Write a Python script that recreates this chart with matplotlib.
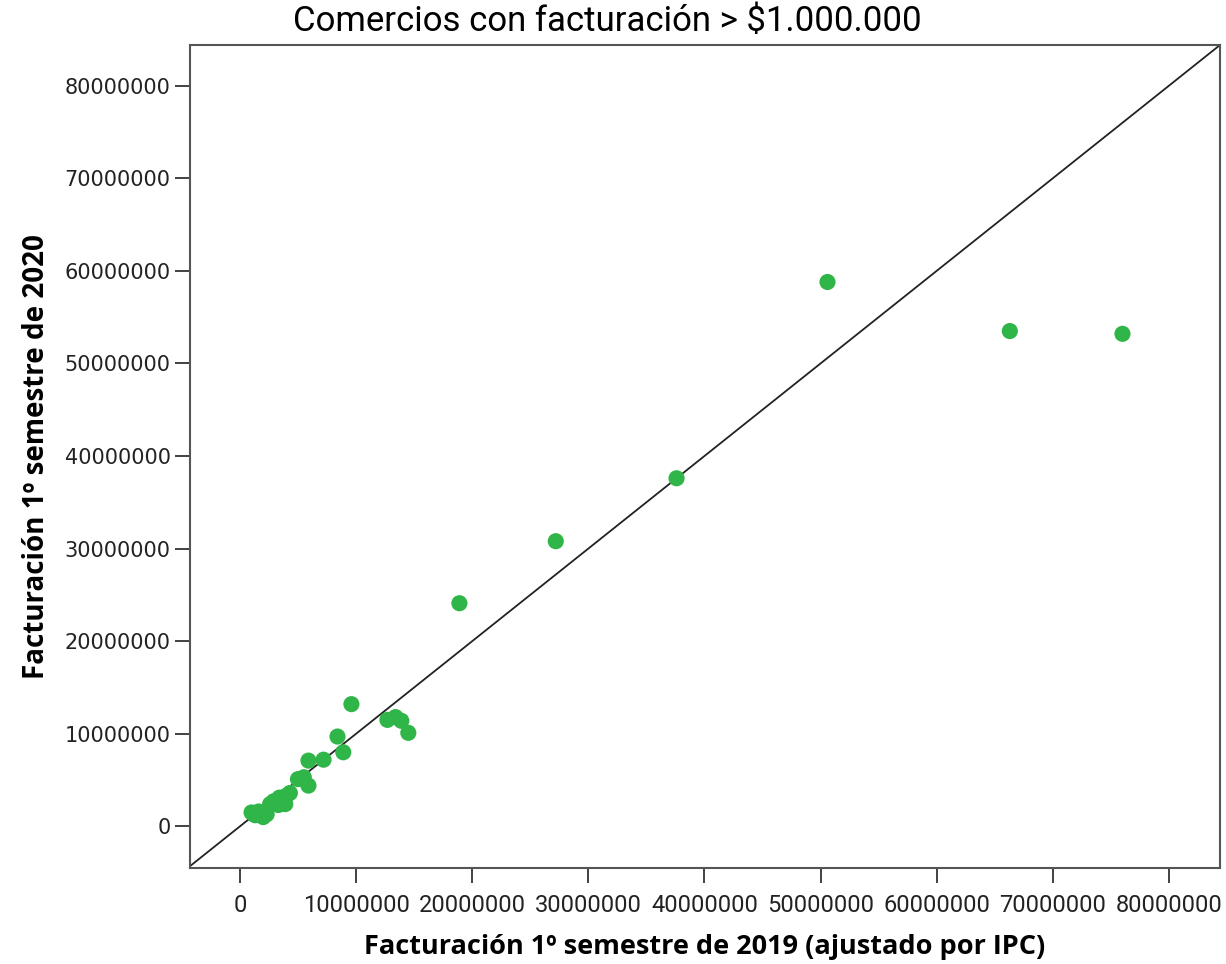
import matplotlib
matplotlib.use("Agg")
import matplotlib.pyplot as plt
from matplotlib.ticker import MultipleLocator, FuncFormatter

# Data (millions)
fact_2019 = [1.0, 1.3, 1.6, 2.0, 2.3, 2.6, 2.9, 3.3, 3.4, 3.9, 4.0, 4.3, 5.0, 5.5,
             5.9, 5.9, 7.2, 8.4, 8.9, 9.6, 12.7, 13.4, 13.9, 14.5, 18.9, 27.2,
             37.6, 50.6, 66.3, 76.0]
fact_2020 = [1.5, 1.2, 1.6, 1.0, 1.3, 2.4, 2.7, 2.3, 3.1, 2.4, 3.3, 3.6, 5.1, 5.3,
             4.4, 7.1, 7.2, 9.7, 8.0, 13.2, 11.5, 11.8, 11.4, 10.1, 24.1, 30.8,
             37.6, 58.8, 53.5, 53.2]
x_vals = [v * 1e6 for v in fact_2019]
y_vals = [v * 1e6 for v in fact_2020]

title = "Comercios con facturación > $1.000.000"
xlabel = "Facturación 1º semestre de 2019 (ajustado por IPC)"
ylabel = "Facturación 1º semestre de 2020"

narrow = ["Liberation Sans Narrow", "Roboto", "DejaVu Sans"]
boldfam = ["Open Sans", "DejaVu Sans"]

fig = plt.figure(figsize=(12.26, 9.64), dpi=100)
ax = fig.add_axes([190/1226, 1 - 868/964, (1220-190)/1226, (868-45)/964])

ax.scatter(x_vals, y_vals, s=135, color="#2fb548", edgecolors="none", zorder=3)
ax.axline((0, 0), (1, 1), color="#222222", lw=1.3, zorder=2)

ax.set_xlim(-4.3e6, 84.4e6)
ax.set_ylim(-4.5e6, 84.4e6)
ax.xaxis.set_major_locator(MultipleLocator(1e7))
ax.yaxis.set_major_locator(MultipleLocator(1e7))
fmt = FuncFormatter(lambda v, p: f"{int(round(v))}")
ax.xaxis.set_major_formatter(fmt)
ax.yaxis.set_major_formatter(fmt)

for s in ax.spines.values():
    s.set_color("#555555")
    s.set_linewidth(1.5)

ax.tick_params(axis="both", direction="out", length=11, width=1.3, color="#333333")
ax.tick_params(axis="y", labelsize=15, labelcolor="#222222", pad=3)
ax.tick_params(axis="x", labelsize=17, labelcolor="#222222", pad=8)
for lab in ax.get_yticklabels():
    lab.set_fontfamily(["DejaVu Sans"])
for lab in ax.get_xticklabels():
    lab.set_fontfamily(narrow)

ax.set_xlabel(xlabel, fontsize=19.5, fontweight="bold", family=boldfam, labelpad=12)
ax.set_ylabel(ylabel, fontsize=20, fontweight="bold", family=boldfam, labelpad=10)

fig.text(0.495, 1 - 22/964, title, ha="center", va="center", fontsize=25,
         family=narrow, color="black")

fig.savefig("out.png", dpi=100, facecolor="white")
